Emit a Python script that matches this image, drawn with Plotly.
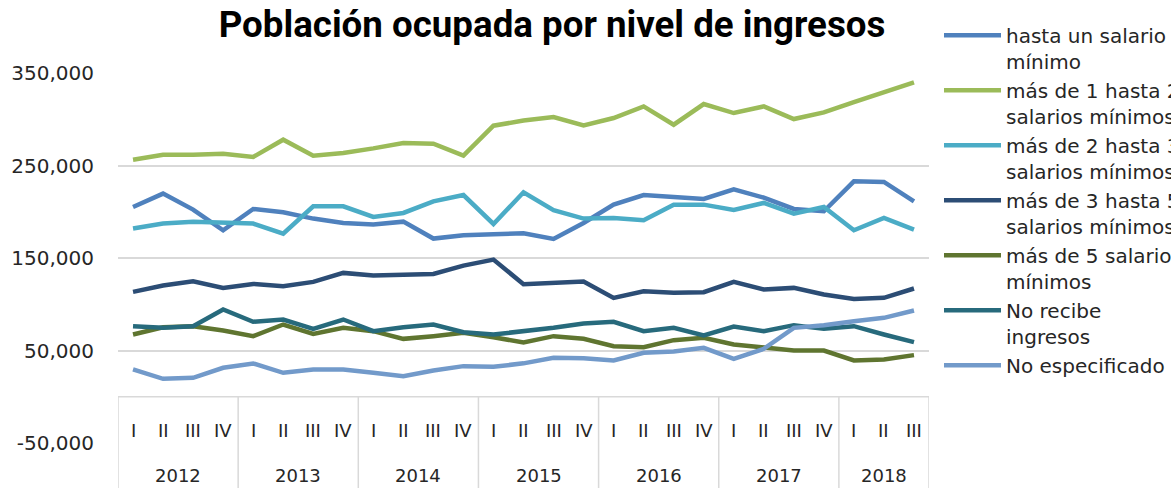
import plotly.graph_objects as go

# ---------------- data ----------------
quarters = ["I", "II", "III", "IV"] * 6 + ["I", "II", "III"]
years = ["2012", "2013", "2014", "2015", "2016", "2017", "2018"]
quarters_per_year = [4, 4, 4, 4, 4, 4, 3]

series_names = [
    "hasta un salario<br>mínimo",
    "más de 1 hasta 2<br>salarios mínimos",
    "más de 2 hasta 3<br>salarios mínimos",
    "más de 3 hasta 5<br>salarios mínimos",
    "más de 5 salarios<br>mínimos",
    "No recibe<br>ingresos",
    "No especificado",
]

hasta_1 = [205200, 219600, 202300, 180000, 203000, 199400, 192600,
           187900, 186100, 189300, 171000, 174600, 175600, 176700,
           170600, 187900, 207700, 218100, 216000, 213800, 224300,
           215200, 203000, 200500, 232900, 232200, 211300]
de_1_a_2 = [256300, 261700, 261700, 262800, 259200, 277900, 260600,
            263500, 268500, 274300, 273600, 260600, 293000, 298600,
            302400, 293400, 301300, 313900, 294100, 316400, 306700,
            313900, 300200, 307400, 318600, 329000, 339800]
de_2_a_3 = [181800, 187200, 189300, 187900, 187200, 176400, 205900,
            205900, 194400, 198700, 211300, 218100, 186800, 221000,
            201600, 192600, 193300, 190800, 207700, 207700, 201900,
            209500, 198000, 205200, 180000, 193300, 180700]
de_3_a_5 = [113400, 120200, 124900, 117700, 122000, 119500, 124200,
            133900, 131000, 131400, 132800, 141800, 148300, 121600,
            123100, 124500, 106900, 114100, 112300, 113000, 124200,
            115900, 117700, 110500, 105800, 106900, 117000]
mas_de_5 = [67300, 75200, 76300, 71600, 65500, 78100, 68000,
            74500, 70900, 62600, 65500, 69100, 64400, 58600,
            65500, 62600, 54700, 53600, 61200, 63700, 56500,
            52900, 50000, 50000, 39200, 40300, 45000]
no_recibe = [76300, 74500, 76300, 94300, 81000, 83500, 73400,
             83500, 70900, 75200, 78100, 69800, 67300, 70700,
             74500, 79200, 81000, 70900, 74500, 66200, 75900,
             70900, 77400, 73400, 76300, 67300, 59000]
no_especificado = [29500, 19400, 20500, 31300, 36000, 25900, 29500,
                   29500, 25900, 22300, 28400, 33100, 32400, 36100,
                   42100, 41700, 39200, 47500, 48900, 52900, 41000,
                   51800, 74500, 77400, 81700, 85300, 93200]

y_tick_values = [-50000, 50000, 150000, 250000, 350000]
y_range = [-50000, 350000]

# ---------------- style ----------------
colors = ["#4F81BD", "#9BBB59", "#4BACC6", "#2C4D75", "#5F7530", "#276A7C", "#729ACA"]
FONT = "DejaVu Sans"
TITLE_FONT = "Roboto"
TXT = "#262626"
GRID = "#D9D9D9"

all_series = [hasta_1, de_1_a_2, de_2_a_3, de_3_a_5, mas_de_5, no_recibe, no_especificado]
x_idx = list(range(len(quarters)))

fig = go.Figure()
for name, vals, col in zip(series_names, all_series, colors):
    fig.add_trace(go.Scatter(
        x=x_idx, y=vals, name=name, mode="lines",
        line=dict(color=col, width=4.5),
    ))

# category "table" under the zero line
frac0 = (0 - y_range[0]) / (y_range[1] - y_range[0])
shapes = []
shapes.append(dict(type="line", xref="x", yref="y", x0=-0.5, x1=len(quarters) - 0.5,
                   y0=0, y1=0, line=dict(color=GRID, width=1.5)))
bounds = [-0.5]
for q in quarters_per_year:
    bounds.append(bounds[-1] + q)
for b in bounds:
    shapes.append(dict(type="line", xref="x", yref="paper", x0=b, x1=b,
                       y0=frac0, y1=-0.3, line=dict(color=GRID, width=1.5)))

annotations = []
for i, q in enumerate(quarters):
    annotations.append(dict(x=i, y=0.035, xref="x", yref="paper", text=q,
                            showarrow=False, font=dict(family=FONT, size=18, color=TXT),
                            xanchor="center", yanchor="middle"))
for k, yr in enumerate(years):
    cx = (bounds[k] + bounds[k + 1]) / 2
    annotations.append(dict(x=cx, y=-0.087, xref="x", yref="paper", text=yr,
                            showarrow=False, font=dict(family=FONT, size=18, color=TXT),
                            xanchor="center", yanchor="middle"))

fig.update_layout(
    width=1171, height=488,
    margin=dict(l=118, r=242, t=73, b=45, autoexpand=False),
    paper_bgcolor="white", plot_bgcolor="white",
    title=dict(text="<b>Población ocupada por nivel de ingresos</b>",
               x=552 / 1171, xref="container", xanchor="center",
               y=1 - 24 / 488, yref="container", yanchor="middle",
               font=dict(family=TITLE_FONT, size=36.7, color="#000000")),
    xaxis=dict(range=[-0.5, len(quarters) - 0.5], showgrid=False, zeroline=False,
               showticklabels=False, showline=False, ticks=""),
    yaxis=dict(range=y_range, tickvals=y_tick_values,
               ticktext=[f"{v:,}" for v in y_tick_values],
               showgrid=True, gridcolor=GRID, gridwidth=1.5, zeroline=False,
               showline=False, ticks="", ticklabelstandoff=23,
               tickfont=dict(family=FONT, size=20, color=TXT)),
    legend=dict(x=(939 - 118) / 811, xanchor="left", y=1.155, yanchor="top",
                font=dict(family=FONT, size=20, color=TXT),
                bgcolor="rgba(0,0,0,0)", valign="top", tracegroupgap=0,
                itemwidth=57, maxheight=470),
    shapes=shapes,
    annotations=annotations,
    showlegend=True,
)

fig.write_html("out.html",
               config={"displayModeBar": False},
               post_script="document.body.style.margin='0';document.body.style.padding='0';")
